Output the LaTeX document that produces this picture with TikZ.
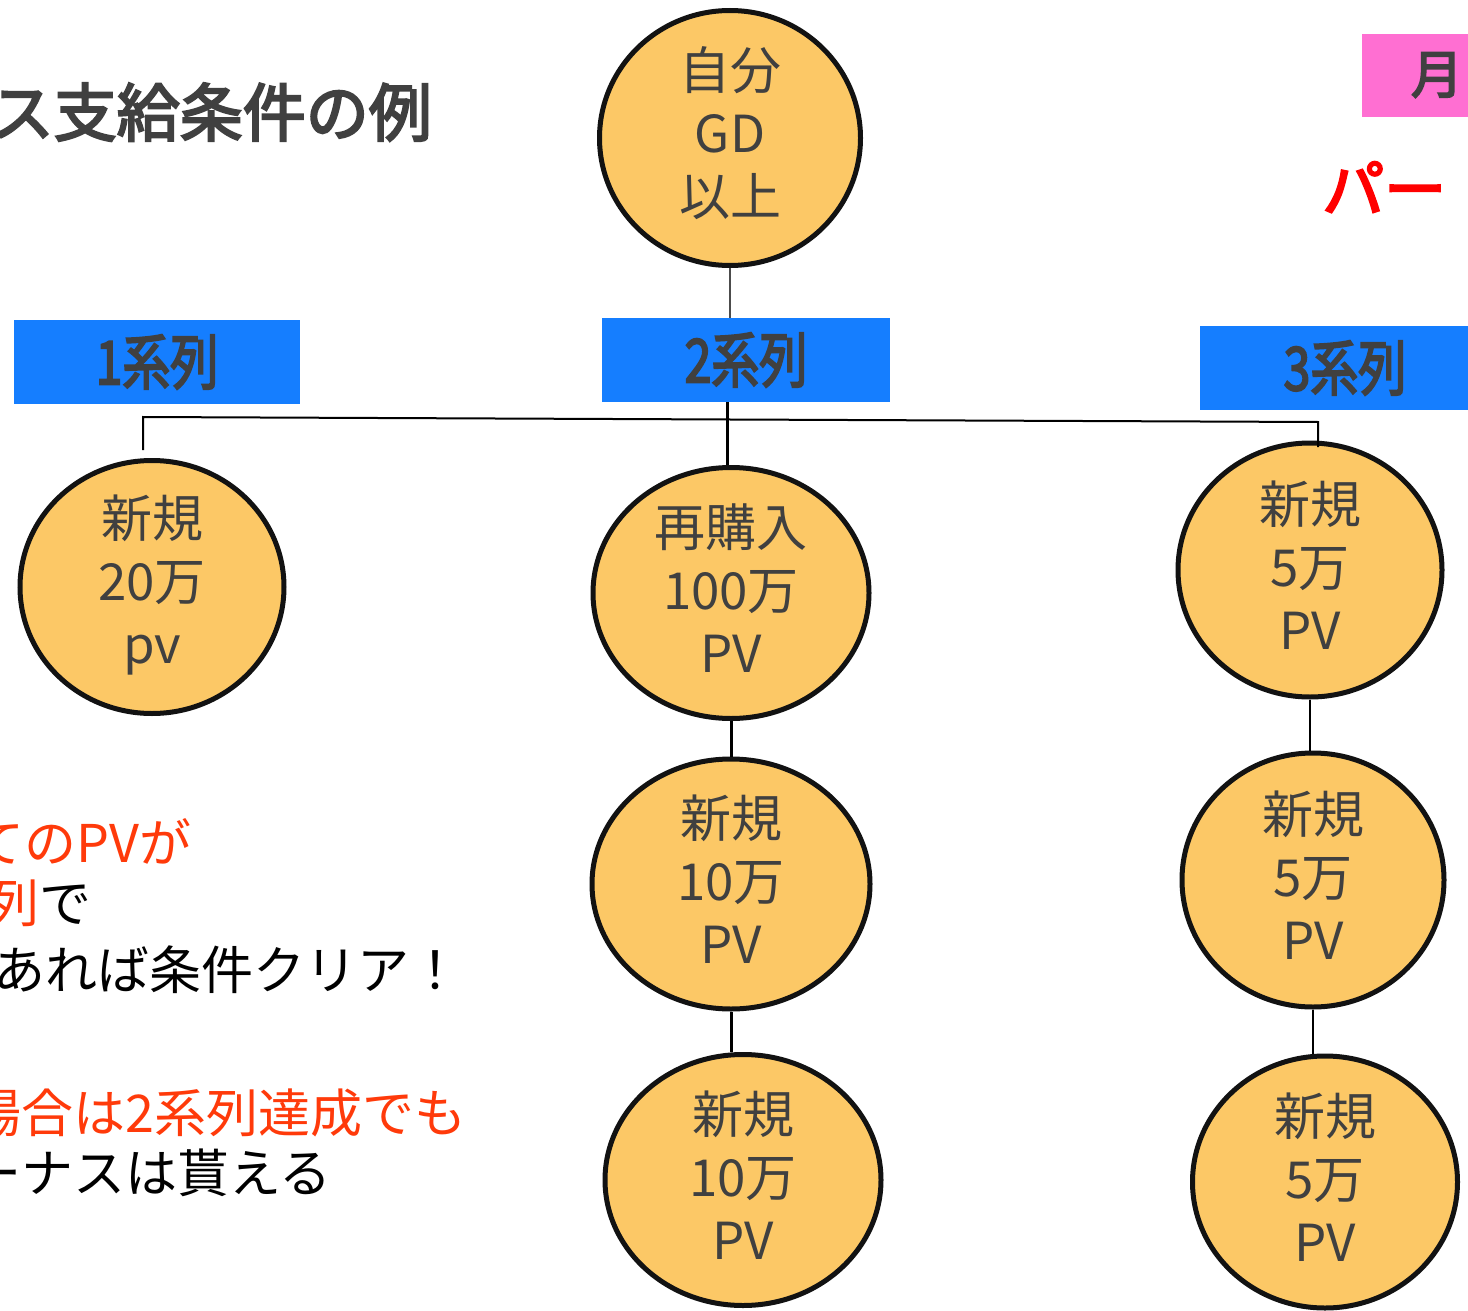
\documentclass[tikz,border=0pt]{standalone}
\usepackage{fontspec}
\setmainfont{Noto Sans CJK JP}
\newfontfamily\heavyjp{Noto Sans CJK JP}[FakeBold=3.5]
\usetikzlibrary{shapes.geometric}
\definecolor{orbfill}{HTML}{FCC866}
\definecolor{txtgray}{HTML}{404040}
\definecolor{boxblue}{HTML}{157EFF}
\definecolor{boxpink}{HTML}{FF6FD2}
\definecolor{redtxt}{HTML}{FF3A0A}
\begin{document}
\begin{tikzpicture}[x=1pt,y=-1pt,
  orb/.style={ellipse, draw=black!93, line width=5pt, fill=orbfill, inner sep=0pt},
  orbtxt/.style={inner sep=0pt, yshift=5pt, text=txtgray, align=center, font=\fontsize{51}{63}\selectfont},
  serbox/.style={rectangle, fill=boxblue, inner sep=0pt, text=txtgray,
    font=\heavyjp\fontsize{60}{64}\selectfont},
  lefttxt/.style={anchor=base east, inner sep=0pt, font=\fontsize{52}{63}\selectfont},
  conn/.style={line width=3pt, black}
]
\useasboundingbox (0,0) rectangle (1468,1311);
\clip (0,0) rectangle (1468,1311);

% title
\node[anchor=base east, inner sep=0pt, text=txtgray, font=\heavyjp\fontsize{63}{70}\selectfont] (title) at (432,136) {ボーナス支給条件の例};

% pink box and red text
\fill[boxpink] (1362,34) rectangle (1500,117);
\node[inner sep=0pt, text=txtgray, font=\heavyjp\fontsize{52}{60}\selectfont] (month) at (1437,75) {月};
\node[anchor=base west, inner sep=0pt, text=red, font=\heavyjp\fontsize{62}{66}\selectfont] (partner) at (1322,212) {パー};

% circles
\node[orb, minimum width=261, minimum height=255] (top) at (730,138) {};
\node[orb, minimum width=264, minimum height=253] (L1) at (152,587) {};
\node[orb, minimum width=276, minimum height=251] (M1) at (731,593) {};
\node[orb, minimum width=278, minimum height=250] (M2) at (731,884) {};
\node[orb, minimum width=276, minimum height=251] (M3) at (743,1180) {};
\node[orb, minimum width=264, minimum height=254] (R1) at (1310,570) {};
\node[orb, minimum width=262, minimum height=254] (R2) at (1313,880) {};
\node[orb, minimum width=265, minimum height=252] (R3) at (1325,1182) {};
\node[orbtxt] (topT) at (top.center) {自分\\GD\\以上};
\node[orbtxt, yshift=-3pt] (L1T) at (L1.center) {新規\\20万\\pv};
\node[orbtxt] (M1T) at (M1.center) {再購入\\100万\\PV};
\node[orbtxt] (M2T) at (M2.center) {新規\\10万\\PV};
\node[orbtxt] (M3T) at (M3.center) {新規\\10万\\PV};
\node[orbtxt] (R1T) at (R1.center) {新規\\5万\\PV};
\node[orbtxt] (R2T) at (R2.center) {新規\\5万\\PV};
\node[orbtxt] (R3T) at (R3.center) {新規\\5万\\PV};

% series boxes
\node[serbox, minimum width=286, minimum height=84] (B1) at (157,362) {\scalebox{0.8}[1]{1系列}};
\node[serbox, minimum width=288, minimum height=84] (B2) at (746,360) {\scalebox{0.8}[1]{2系列}};
\node[serbox, minimum width=290, minimum height=84] (B3) at (1345,368) {\scalebox{0.8}[1]{3系列}};

% connectors
\draw[line width=1.5pt, black!70] (top.south) -- (top.south |- B2.north);
\coordinate (hL) at (143,417);
\coordinate (hR) at (1318,422);
\coordinate (mtop) at (727,402);
\draw[line width=2pt] (hL |- L1.north) ++(0,-8) -- (hL) -- (hR) -- ++(0,25);
\draw[conn] (mtop) -- (mtop |- M1.north);
\draw[conn] (M1.south) -- (M2.north);
\draw[conn] (M2.south) -- (M2.south |- M3.north);
\draw[line width=2pt] (R1.south) -- (R1.south |- R2.north);
\draw[line width=2pt] (R2.south) -- (R2.south |- R3.north);

% left explanation text
\node[lefttxt, text=redtxt] (t1) at (192,862) {すべてのPVが};
\node[lefttxt] (t2) at (92,922) {{\color{redtxt}1系列}で};
\node[lefttxt] (t3) at (462,989) {万PVあれば条件クリア！};
\node[lefttxt, text=redtxt] (t4) at (467,1132) {この場合は2系列達成でも};
\node[lefttxt] (t5) at (332,1192) {ボーナスは貰える};
\end{tikzpicture}
\end{document}
